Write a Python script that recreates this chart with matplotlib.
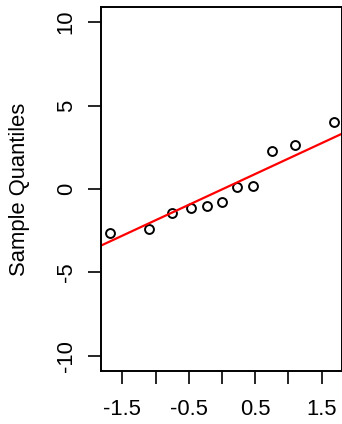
import numpy as np
import matplotlib
matplotlib.use("Agg")
import matplotlib.pyplot as plt

# Normal QQ plot, 11 samples
theoretical = [-1.691, -1.097, -0.748, -0.473, -0.230, 0.0, 0.230, 0.473, 0.748, 1.097, 1.691]
sample = [-2.62, -2.38, -1.42, -1.12, -1.00, -0.76, 0.14, 0.16, 2.28, 2.63, 4.00]
xticks = [-1.5, -1.0, -0.5, 0.0, 0.5, 1.0, 1.5]
xticklabels = ['-1.5', '', '-0.5', '', '0.5', '', '1.5']
yticks = [-10, -5, 0, 5, 10]

plt.rcParams['font.family'] = ['Liberation Sans', 'DejaVu Sans']
fs = 15.8

W, H = 342, 424
fig = plt.figure(figsize=(W / 100, H / 100), dpi=100)
ax = fig.add_axes([101 / W, (H - 371) / H, 240.5 / W, 364 / H])

ax.plot(theoretical, sample, 'o', mfc='none', mec='black', ms=6.4, mew=1.4, clip_on=False)

# qqline through the quartiles
q1, q3 = np.percentile(sample, [25, 75])
z1, z3 = -0.6745, 0.6745
slope = (q3 - q1) / (z3 - z1)
intercept = q1 - slope * z1
ax.axline((0, intercept), slope=slope, color='red', lw=1.6)

ax.set_xlim(-1.822, 1.80)
ax.set_ylim(-10.9, 10.9)
ax.set_xticks(xticks)
ax.set_xticklabels(xticklabels, fontsize=fs)
ax.set_yticks(yticks)
ax.set_yticklabels([str(v) for v in yticks], fontsize=fs, rotation=90, va='center')
ax.tick_params(direction='out', length=9.4, width=1.2, pad=8)
ax.tick_params(axis='x', pad=11)
for s in ax.spines.values():
    s.set_linewidth(1.4)

fig.text(20 / W, (H - 189) / H, 'Sample Quantiles', rotation=90, ha='center', va='center', fontsize=fs)

fig.savefig('out.png', dpi=100)
